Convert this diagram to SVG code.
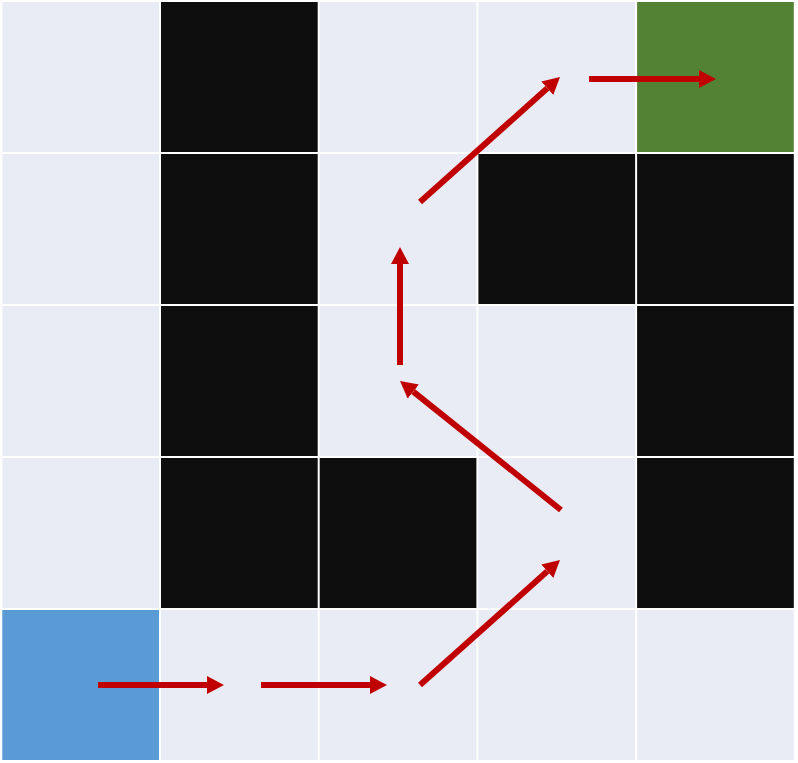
<svg xmlns="http://www.w3.org/2000/svg" width="798" height="763" viewBox="0 0 798 763">
<style>
.e{fill:#EAECF5}
.w{fill:#0E0E0E}
.s{fill:#5B9BD5}
.g{fill:#548235}
.a{stroke:#C00000;stroke-width:6;fill:none}
</style>
<defs>
<marker id="h" markerUnits="userSpaceOnUse" viewBox="0 0 17 18" markerWidth="17" markerHeight="18" refX="0" refY="9" orient="auto">
<path d="M0,0 L17,9 L0,18 Z" fill="#C00000"/>
</marker>
</defs>
<rect width="798" height="763" fill="#FFFFFF"/>
<g id="grid">
<g id="r0">
<rect id="c0_0" class="e" x="2.3" y="2" width="156.7" height="150"/>
<rect id="c0_1" class="w" x="161" y="2" width="156.7" height="150"/>
<rect id="c0_2" class="e" x="319.7" y="2" width="156.7" height="150"/>
<rect id="c0_3" class="e" x="478.4" y="2" width="156.7" height="150"/>
<rect id="c0_4" class="g" x="637.1" y="2" width="156.7" height="150"/>
</g>
<g id="r1">
<rect id="c1_0" class="e" x="2.3" y="154" width="156.7" height="150"/>
<rect id="c1_1" class="w" x="161" y="154" width="156.7" height="150"/>
<rect id="c1_2" class="e" x="319.7" y="154" width="156.7" height="150"/>
<rect id="c1_3" class="w" x="478.4" y="154" width="156.7" height="150"/>
<rect id="c1_4" class="w" x="637.1" y="154" width="156.7" height="150"/>
</g>
<g id="r2">
<rect id="c2_0" class="e" x="2.3" y="306" width="156.7" height="150"/>
<rect id="c2_1" class="w" x="161" y="306" width="156.7" height="150"/>
<rect id="c2_2" class="e" x="319.7" y="306" width="156.7" height="150"/>
<rect id="c2_3" class="e" x="478.4" y="306" width="156.7" height="150"/>
<rect id="c2_4" class="w" x="637.1" y="306" width="156.7" height="150"/>
</g>
<g id="r3">
<rect id="c3_0" class="e" x="2.3" y="458" width="156.7" height="150"/>
<rect id="c3_1" class="w" x="161" y="458" width="156.7" height="150"/>
<rect id="c3_2" class="w" x="319.7" y="458" width="156.7" height="150"/>
<rect id="c3_3" class="e" x="478.4" y="458" width="156.7" height="150"/>
<rect id="c3_4" class="w" x="637.1" y="458" width="156.7" height="150"/>
</g>
<g id="r4">
<rect id="c4_0" class="s" x="2.3" y="610" width="156.7" height="150"/>
<rect id="c4_1" class="e" x="161" y="610" width="156.7" height="150"/>
<rect id="c4_2" class="e" x="319.7" y="610" width="156.7" height="150"/>
<rect id="c4_3" class="e" x="478.4" y="610" width="156.7" height="150"/>
<rect id="c4_4" class="e" x="637.1" y="610" width="156.7" height="150"/>
</g>
</g>
<g id="connectors">
<line class="a" x1="98" y1="685" x2="207" y2="685" marker-end="url(#h)"/>
<line class="a" x1="261" y1="685" x2="370" y2="685" marker-end="url(#h)"/>
<line class="a" x1="420" y1="685" x2="547.3" y2="571.3" marker-end="url(#h)"/>
<line class="a" x1="561" y1="510" x2="413.3" y2="391.6" marker-end="url(#h)"/>
<line class="a" x1="400" y1="365" x2="400" y2="264" marker-end="url(#h)"/>
<line class="a" x1="420" y1="202" x2="547.3" y2="88.3" marker-end="url(#h)"/>
<line class="a" x1="589" y1="79" x2="699" y2="79" marker-end="url(#h)"/>
</g>
</svg>
